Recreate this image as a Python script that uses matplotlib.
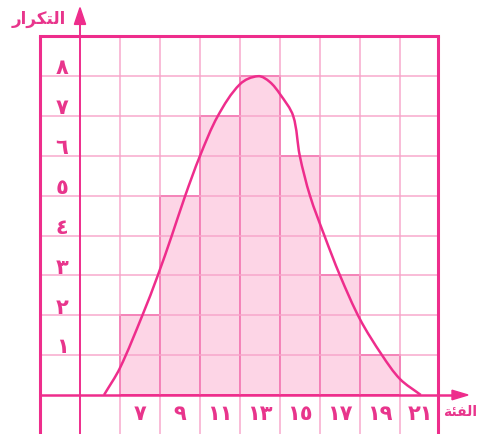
import math
import matplotlib
matplotlib.use("Agg")
import matplotlib.pyplot as plt
from matplotlib.patches import Polygon, PathPatch
from matplotlib.path import Path

# ---- data ----
class_centers = [7, 9, 11, 13, 15, 17, 19]
frequencies = [2, 5, 7, 8, 6, 3, 1]
x_tick_values = [7, 9, 11, 13, 15, 17, 19, 21]
x_tick_labels = ["٧", "٩", "١١", "١٣", "١٥", "١٧", "١٩", "٢١"]
y_tick_values = [1, 2, 3, 4, 5, 6, 7, 8]
y_tick_labels = ["١", "٢", "٣", "٤", "٥", "٦", "٧", "٨"]
# points
curve_x = [5.20, 6.0, 7.12, 7.89, 8.59, 9.26, 10.0, 10.89, 12.0, 12.9,
           13.48, 14.0, 14.66, 14.99, 15.5, 16.22, 17.0, 18.0, 19.1, 20.0, 21.04]
curve_y = [0, 0.68, 2.0, 3.0, 4.0, 5.0, 6.0, 7.0, 7.8, 8.0,
           7.86, 7.55, 7.0, 6.0, 5.0, 4.0, 3.0, 1.9, 1.0, 0.4, 0]
# Arabic labels (pre-shaped presentation forms, visual order)
y_label = "\uFEAD\uFE8D\uFEAE\uFEDC\uFE98\uFEDF\uFE8D"   # التكرار
x_label = "\uFE94\uFE8C\uFED4\uFEDF\uFE8D"               # الفئة

DARK = "#ee2d8c"
GRID = "#f7a3c9"
FILL = "#fdd5e6"
TEXT = "#e8358c"

fig = plt.figure(figsize=(4.79, 4.35), dpi=100)
ax = fig.add_axes([0, 0, 1, 1])
ax.set_xlim(0, 23.95)
ax.set_ylim(-0.979, 9.937)
ax.axis("off")

# bars
ax.bar(class_centers, frequencies, width=2, color=FILL, edgecolor=DARK,
       linewidth=1.3, zorder=2)

# grid
for gx in range(6, 22, 2):
    ax.plot([gx, gx], [-1.2, 9], color=GRID, lw=1.2, alpha=0.85, zorder=3)
for gy in range(1, 9):
    ax.plot([2, 21.9], [gy, gy], color=GRID, lw=1.2, alpha=0.85, zorder=3)

# frame
ax.plot([2, 2], [-1.2, 9], color=DARK, lw=2.2, zorder=4, solid_capstyle="butt")
ax.plot([21.9, 21.9], [-1.2, 9], color=DARK, lw=2.2, zorder=4, solid_capstyle="butt")
ax.plot([2, 21.9], [9, 9], color=DARK, lw=2.2, zorder=4, solid_capstyle="projecting")

# axes lines with arrows
ax.plot([2, 22.8], [0, 0], color=DARK, lw=1.8, zorder=5)
ax.add_patch(Polygon([[22.6, -0.12], [22.6, 0.12], [23.4, 0]], closed=True,
                     color=DARK, zorder=6))
ax.plot([4, 4], [-1.2, 9.5], color=DARK, lw=1.4, zorder=5)
ax.add_patch(Polygon([[3.72, 9.3], [4.28, 9.3], [4, 9.72]], closed=True,
                     color=DARK, zorder=6))

# smooth curve through the read points (tangent-direction Bezier path)
SX, SY = 20.0, 40.0  # approx screen scale, used only for tangent directions
pts = [(x * SX, y * SY) for x, y in zip(curve_x, curve_y)]
n = len(pts)


def unit_tangent(i):
    a = pts[max(i - 1, 0)]
    b = pts[min(i + 1, n - 1)]
    dx, dy = b[0] - a[0], b[1] - a[1]
    L = math.hypot(dx, dy)
    return dx / L, dy / L


verts = [(pts[0][0] / SX, pts[0][1] / SY)]
codes = [Path.MOVETO]
for i in range(n - 1):
    p1, p2 = pts[i], pts[i + 1]
    chord = math.hypot(p2[0] - p1[0], p2[1] - p1[1]) / 3.0
    t1, t2 = unit_tangent(i), unit_tangent(i + 1)
    c1 = (p1[0] + t1[0] * chord, p1[1] + t1[1] * chord)
    c2 = (p2[0] - t2[0] * chord, p2[1] - t2[1] * chord)
    for q in (c1, c2, p2):
        verts.append((q[0] / SX, q[1] / SY))
    codes += [Path.CURVE4] * 3
ax.add_patch(PathPatch(Path(verts, codes), facecolor="none", edgecolor=DARK,
                       lw=1.8, zorder=7))

# tick labels
for v, s in zip(y_tick_values, y_tick_labels):
    ax.text(3.1, v + 0.22, s, ha="center", va="center", fontsize=15,
            fontweight="bold", color=TEXT, family="DejaVu Sans", zorder=8)
for v, s in zip(x_tick_values, x_tick_labels):
    ax.text(v, -0.45, s, ha="center", va="center", fontsize=15,
            fontweight="bold", color=TEXT, family="DejaVu Sans", zorder=8)

ax.text(1.95, 9.45, y_label, ha="center", va="center", fontsize=12,
        fontweight="bold", color=TEXT, family="DejaVu Sans", zorder=8)
ax.text(23.85, -0.4, x_label, ha="right", va="center", fontsize=10,
        fontweight="bold", color=TEXT, family="DejaVu Sans", zorder=8)

fig.savefig("out.png", dpi=100)
